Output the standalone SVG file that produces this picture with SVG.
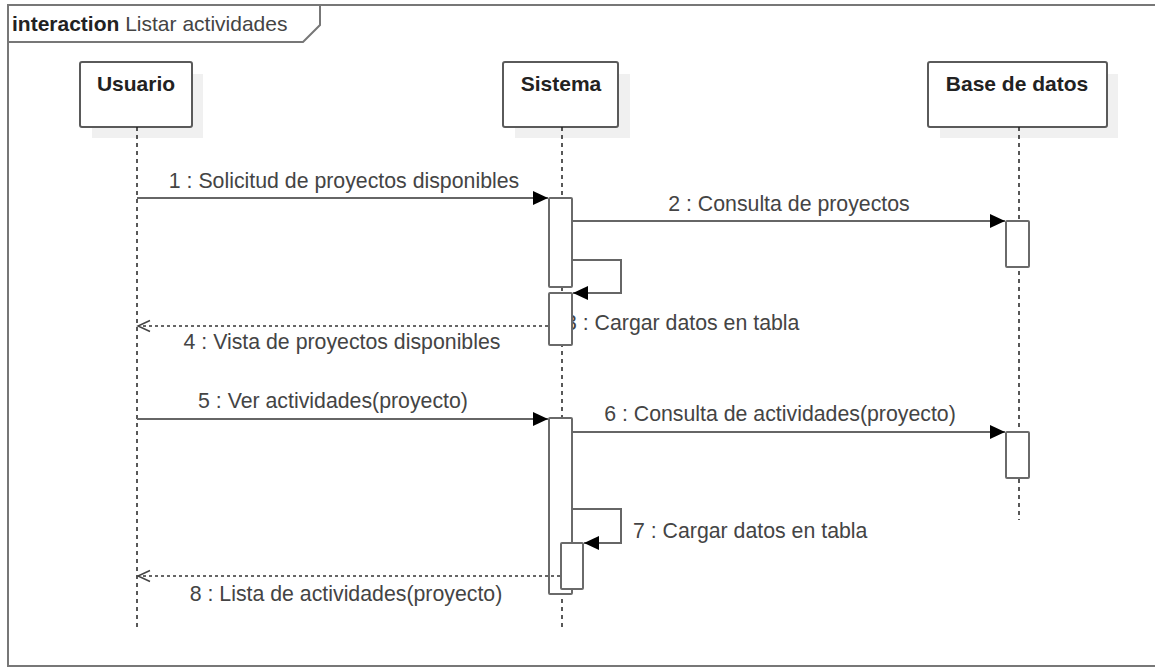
<svg xmlns="http://www.w3.org/2000/svg" width="1155" height="667" viewBox="0 0 1155 667">
<style>
  text { font-family: "Liberation Sans", Arial, sans-serif; font-size: 21px; }
  .lbl { fill: #444; font-size: 21.3px; }
  .name { fill: #222; font-weight: bold; text-anchor: middle; }
  .box { fill: #fff; stroke: #5a5a5a; stroke-width: 2; }
  .shadow { fill: #f0f0f0; }
  .life { stroke: #222; stroke-width: 1.5; stroke-dasharray: 4 4; fill: none; }
  .act { fill: #fff; stroke: #6a6a6a; stroke-width: 2; }
  .msg { stroke: #666; stroke-width: 2; fill: none; }
  .ret { stroke: #666; stroke-width: 2; fill: none; stroke-dasharray: 3 3; }
  .frame { fill: none; stroke: #777; stroke-width: 2; }
</style>
<defs>
  <marker id="filled" markerWidth="16" markerHeight="14" refX="15" refY="7" orient="auto" markerUnits="userSpaceOnUse">
    <path d="M0,0 L15,7 L0,14 Z" fill="#000"/>
  </marker>
  <marker id="open" markerWidth="16" markerHeight="14" refX="14" refY="7" orient="auto" markerUnits="userSpaceOnUse">
    <path d="M2,1.5 L14,7 L2,12.5" fill="none" stroke="#444" stroke-width="1.5"/>
  </marker>
</defs>
<rect width="1155" height="667" fill="#fff"/>
<g id="frame">
  <rect class="frame" x="8" y="5" width="1160" height="661"/>
  <path class="frame" d="M8,42 H303 L320,25 V5"/>
  <text x="12" y="31"><tspan font-weight="bold" fill="#222">interaction</tspan><tspan fill="#444"> Listar actividades</tspan></text>
</g>
<g id="usuario">
  <rect class="shadow" x="92" y="74" width="111" height="64"/>
  <rect class="box" x="80" y="62" width="112" height="65" rx="2"/>
  <text class="name" x="136" y="91">Usuario</text>
  <line class="life" x1="137" y1="127" x2="137" y2="628"/>
</g>
<g id="sistema">
  <rect class="shadow" x="515" y="74" width="115" height="64"/>
  <rect class="box" x="503" y="62" width="115" height="65" rx="2"/>
  <text class="name" x="561" y="91">Sistema</text>
  <line class="life" x1="562" y1="127" x2="562" y2="628"/>
</g>
<g id="basedatos">
  <rect class="shadow" x="940" y="74" width="178" height="64"/>
  <rect class="box" x="928" y="62" width="179" height="65" rx="2"/>
  <text class="name" x="1017" y="91">Base de datos</text>
  <line class="life" x1="1019" y1="127" x2="1019" y2="520"/>
</g>
<g id="labels-behind">
  <text class="lbl" x="565" y="330">3 : Cargar datos en tabla</text>
</g>
<g id="activations">
  <rect class="act" x="549" y="198" width="23" height="89" rx="1"/>
  <rect class="act" x="549" y="293" width="23" height="52" rx="1"/>
  <rect class="act" x="1006" y="221" width="23" height="46" rx="1"/>
  <rect class="act" x="549" y="418" width="23" height="176" rx="1"/>
  <rect class="act" x="1006" y="432" width="23" height="46" rx="1"/>
  <rect class="act" x="561" y="543" width="22" height="46" rx="1"/>
</g>
<g id="connectors">
  <line class="msg" x1="137" y1="198" x2="548" y2="198" marker-end="url(#filled)"/>
  <line class="msg" x1="572" y1="221" x2="1005" y2="221" marker-end="url(#filled)"/>
  <path class="msg" d="M572,260 H621 V293 H573" marker-end="url(#filled)"/>
  <line class="ret" x1="548" y1="326" x2="138" y2="326" marker-end="url(#open)"/>
  <line class="msg" x1="137" y1="419" x2="548" y2="419" marker-end="url(#filled)"/>
  <line class="msg" x1="572" y1="432" x2="1005" y2="432" marker-end="url(#filled)"/>
  <path class="msg" d="M572,509 H621 V543 H584" marker-end="url(#filled)"/>
  <line class="ret" x1="560" y1="576" x2="138" y2="576" marker-end="url(#open)"/>
</g>
<g id="message-labels">
  <text class="lbl" x="344" y="188" text-anchor="middle">1 : Solicitud de proyectos disponibles</text>
  <text class="lbl" x="789" y="211" text-anchor="middle">2 : Consulta de proyectos</text>
  <text class="lbl" x="342" y="349" text-anchor="middle">4 : Vista de proyectos disponibles</text>
  <text class="lbl" x="333" y="408" text-anchor="middle">5 : Ver actividades(proyecto)</text>
  <text class="lbl" x="780" y="421" text-anchor="middle">6 : Consulta de actividades(proyecto)</text>
  <text class="lbl" x="633" y="538">7 : Cargar datos en tabla</text>
  <text class="lbl" x="346" y="601" text-anchor="middle">8 : Lista de actividades(proyecto)</text>
</g>
</svg>
